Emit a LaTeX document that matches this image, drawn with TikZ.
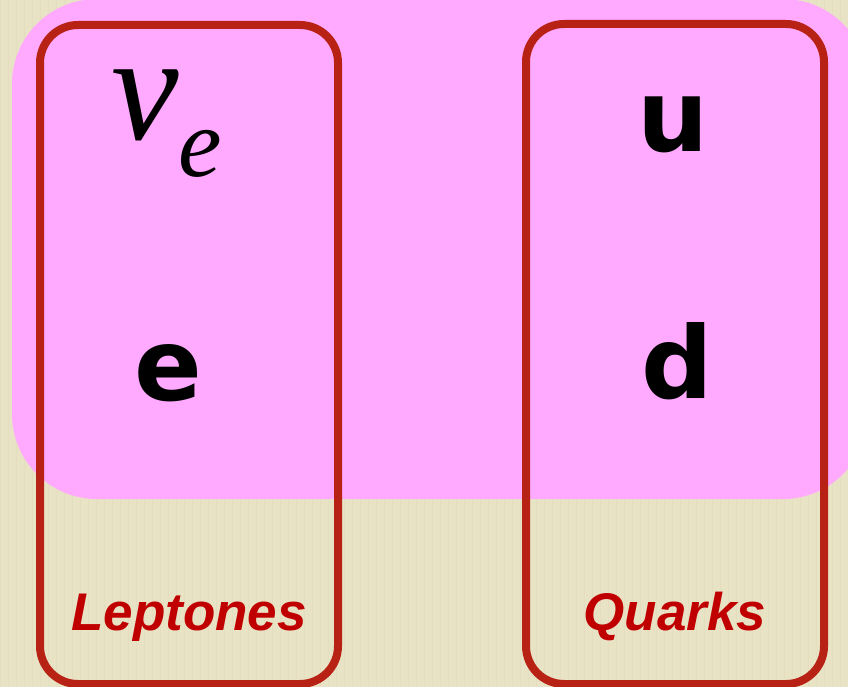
\documentclass[tikz,border=0pt]{standalone}
\usepackage{fontspec}
\setmainfont{Liberation Serif}
\newfontfamily\labelfont{Liberation Sans}
\newfontfamily\letterfont{DejaVu Sans}
\definecolor{bgbeige}{HTML}{E9E3C6}
\definecolor{bgline}{HTML}{E4DDBF}
\definecolor{pinkfill}{HTML}{FFAAFF}
\definecolor{boxred}{HTML}{B82214}
\definecolor{labelred}{HTML}{C00000}
\tikzset{
  groupbox/.style={draw=boxred, line width=8pt, rounded corners=38pt},
  famlabel/.style={text=labelred, font=\labelfont\bfseries\itshape\fontsize{53}{53}\selectfont, anchor=base, inner sep=0pt},
  particle/.style={text=black, font=\letterfont\bfseries\fontsize{100}{100}\selectfont, anchor=base, inner sep=0pt},
}
\begin{document}
\begin{tikzpicture}[x=1pt,y=-1pt]
\useasboundingbox (0,0) rectangle (848,687);
\fill[bgbeige] (0,0) rectangle (848,687);
\foreach \i in {0,8,...,848} { \draw[bgline, line width=0.6pt] (\i,0) -- (\i,687); }
\clip (0,0) rectangle (848,687);
\fill[pinkfill, rounded corners=85pt] (12,-1) rectangle (868,499);
\draw[groupbox] (40,25) rectangle (338,684);
\draw[groupbox] (526,24) rectangle (824,684);
\node[inner sep=0pt, anchor=base, font=\itshape\fontsize{152}{152}\selectfont] (nu) at (145,140) {ν};
\node[inner sep=0pt, anchor=base, font=\itshape\fontsize{98}{98}\selectfont] (nue) at (200,177) {e};
\node[particle] (u) at (673,152) {u};
\node[particle] (e) at (168,400) {e};
\node[particle] (d) at (677,398) {d};
\node[famlabel] (lep) at (189,630) {Leptones};
\node[famlabel] (qua) at (675,630) {Quarks};
\end{tikzpicture}
\end{document}
